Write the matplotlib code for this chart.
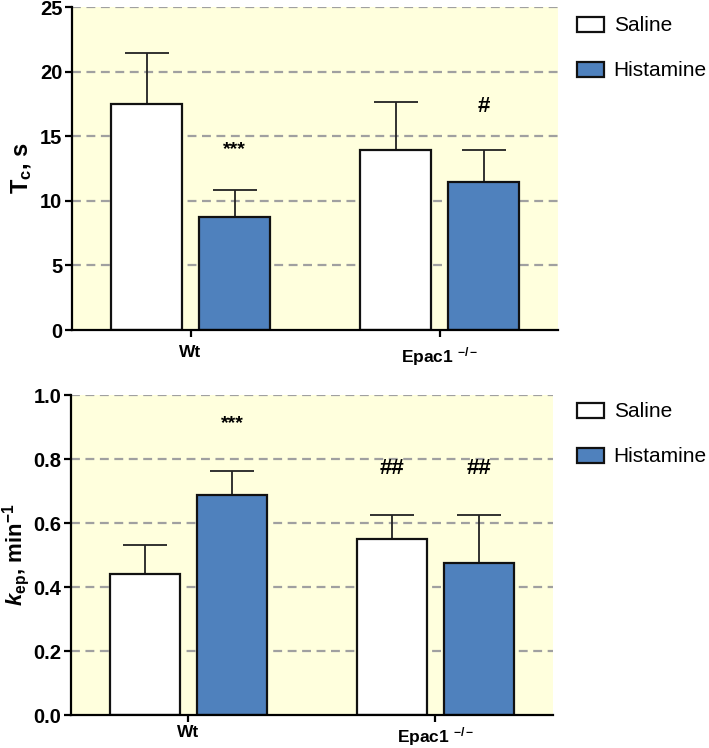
import matplotlib
matplotlib.use("Agg")
import matplotlib.pyplot as plt
import numpy as np
from matplotlib.patches import Patch

plt.rcParams['font.family'] = ['Liberation Sans', 'DejaVu Sans']
plt.rcParams['mathtext.fontset'] = 'custom'
plt.rcParams['mathtext.rm'] = 'Liberation Sans:bold'
plt.rcParams['mathtext.bf'] = 'Liberation Sans:bold'
plt.rcParams['mathtext.it'] = 'Liberation Sans:italic:bold'

groups = ["Wt", "Epac1 $^{-/-}$"]
series = ["Saline", "Histamine"]

tc_saline = [17.5, 13.95]
tc_saline_err = [3.95, 3.7]
tc_hist = [8.75, 11.45]
tc_hist_err = [2.05, 2.45]
tc_marks = [("***", 1, 0, 14.0), ("#", 1, 1, 17.3)]  # text, series idx, group idx, y

kep_saline = [0.44, 0.55]
kep_saline_err = [0.09, 0.075]
kep_hist = [0.686, 0.474]
kep_hist_err = [0.078, 0.152]
kep_marks = [("***", 1, 0, 0.91), ("##", 0, 1, 0.77), ("##", 1, 1, 0.77)]

colors = ["white", "#4F81BD"]
bg = "#FFFFDD"

fig = plt.figure(figsize=(7.09, 7.48), dpi=100)
ax1 = fig.add_axes([0.1016, 0.5588, 0.6855, 0.4318])
ax2 = fig.add_axes([0.1000, 0.0441, 0.6800, 0.4278])

x = np.arange(len(groups))
w = 0.285
off = 0.1767

def draw(ax, vals, errs, ylim, yticks, fmt, marks, ylabel, leg_y, xpad, lpad, lfs):
    ax.set_facecolor(bg)
    for i, (v, e) in enumerate(zip(vals, errs)):
        xs = x + (i * 2 - 1) * off
        ax.errorbar(xs, v, yerr=e, fmt='none', ecolor='#222222', elinewidth=1.3,
                    capsize=16, capthick=1.3, zorder=2)
        ax.bar(xs, v, width=w, color=colors[i], edgecolor='#111111', linewidth=1.6, zorder=3)
    ax.set_xlim(-0.476, 1.476)
    ax.set_ylim(*ylim)
    ax.set_yticks(yticks)
    ax.set_yticklabels([fmt.format(t) for t in yticks], fontsize=14.5, fontweight='bold')
    ax.set_xticks(x)
    ax.set_xticklabels(groups, fontsize=12.5, fontweight='bold')
    for t in yticks[1:]:
        ax.axhline(t, color='#A0A0A0', linestyle=(0, (4, 2.5)), linewidth=1.6, zorder=1)
    for s in ['top', 'right']:
        ax.spines[s].set_visible(False)
    for s in ['left', 'bottom']:
        ax.spines[s].set_linewidth(1.6)
        ax.spines[s].set_zorder(4)
    ax.tick_params(axis='y', length=5, width=1.6, pad=2)
    ax.tick_params(axis='x', length=5, width=1.6, pad=xpad)
    ax.set_ylabel(ylabel, fontsize=lfs, fontweight='bold', labelpad=lpad)
    for txt, si, gi, yy in marks:
        xx = x[gi] + (si * 2 - 1) * off
        fs = 14 if txt.startswith("*") else 16
        ax.text(xx, yy, txt, ha='center', va='center', fontsize=fs, fontweight='bold', zorder=5)
    handles = [Patch(facecolor=colors[i], edgecolor='#111111', linewidth=1.6, label=series[i])
               for i in range(2)]
    fig.legend(handles=handles, loc='upper left', bbox_to_anchor=(0.814, leg_y),
               bbox_transform=fig.transFigure, frameon=False, fontsize=15,
               borderpad=0, borderaxespad=0, labelspacing=1.25, handlelength=1.3,
               handleheight=0.72, handletextpad=0.45)

draw(ax1, [tc_saline, tc_hist], [tc_saline_err, tc_hist_err], (0, 25),
     [0, 5, 10, 15, 20, 25], "{:g}", tc_marks, r"T$_\mathregular{c}$, s", 0.978, 6, 4, 17)
draw(ax2, [kep_saline, kep_hist], [kep_saline_err, kep_hist_err], (0, 1.0),
     [0.0, 0.2, 0.4, 0.6, 0.8, 1.0], "{:.1f}", kep_marks,
     r"$k_\mathregular{ep}$, min$^{\mathregular{-1}}$", 0.462, 2, 1, 16)

fig.savefig("out.png", dpi=100)
